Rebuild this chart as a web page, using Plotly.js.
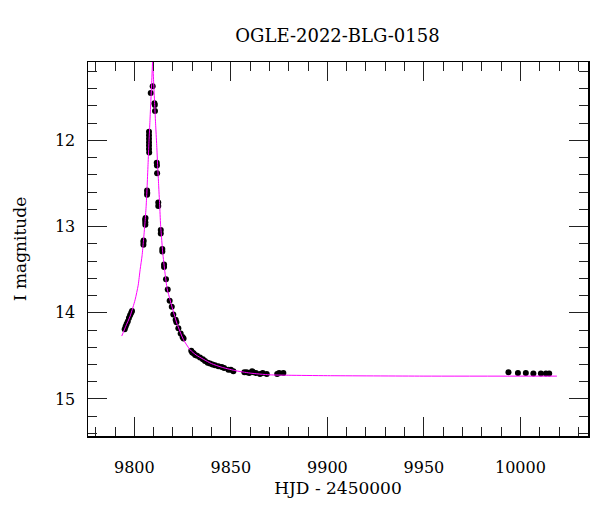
<!DOCTYPE html>
<html>
<head>
<meta charset="utf-8">
<script src="https://cdn.plot.ly/plotly-3.0.1.min.js"></script>
<style>html,body{margin:0;padding:0;background:#fff;}#chart{width:600px;height:512px;}</style>
</head>
<body>
<div id="chart"></div>
<script>
// Observed OGLE photometry (HJD - 2450000, I magnitude)
const obsHJD = [
  9795.0, 9795.5, 9796.0, 9796.6, 9797.2, 9797.8, 9798.4, 9798.8,
  9804.7, 9804.7, 9804.8,
  9805.6, 9805.7, 9805.7, 9805.8,
  9806.6, 9806.7, 9806.6,
  9807.6, 9807.6, 9807.6, 9807.6, 9807.6, 9807.6, 9807.7,
  9808.5, 9809.5, 9810.4, 9810.6, 9810.7,
  9811.6, 9811.7, 9811.8,
  9812.4, 9812.4,
  9813.7, 9813.7,
  9814.5, 9814.5,
  9815.4, 9815.4,
  9816.4, 9817.3, 9818.3, 9819.4, 9820.2, 9821.4, 9821.8, 9822.8, 9824.0, 9825.0, 9825.5,
  9829.5, 9830.0, 9830.7, 9831.5, 9832.5, 9834.0, 9835.5, 9836.6, 9838.0, 9839.2, 9840.5,
  9841.8, 9843.5, 9845.3, 9846.5, 9848.7, 9850.0, 9851.3,
  9857.0, 9858.2, 9859.5, 9861.0, 9861.7, 9863.0, 9865.1, 9866.5, 9868.6,
  9874.0, 9875.0, 9877.2,
  9993.8, 9998.7, 10002.8, 10006.7, 10010.6, 10013.2, 10014.9
];
const obsMag = [
  14.19, 14.16, 14.13, 14.10, 14.06, 14.03, 14.00, 13.98,
  13.18, 13.21, 13.16,
  12.92, 12.95, 12.98, 12.90,
  12.58, 12.61, 12.63,
  11.90, 11.94, 11.98, 12.02, 12.06, 12.10, 12.14,
  11.45, 11.37, 11.57, 11.59, 11.66,
  12.26, 12.29, 12.38,
  12.72, 12.76,
  13.04, 13.08,
  13.26, 13.29,
  13.44, 13.47,
  13.61, 13.73, 13.86, 13.93, 14.02, 14.08, 14.11, 14.18, 14.24, 14.28, 14.30,
  14.44, 14.46, 14.47, 14.49, 14.50, 14.52, 14.54, 14.56, 14.58, 14.59, 14.60,
  14.61, 14.62, 14.63, 14.64, 14.66, 14.66, 14.68,
  14.69, 14.69, 14.70, 14.68, 14.69, 14.70, 14.71, 14.70, 14.71,
  14.71, 14.70, 14.70,
  14.69, 14.70, 14.70, 14.705, 14.705, 14.705, 14.705
];

// Model light curve
const modelHJD = [
  9793.5, 9795.5, 9797.8, 9800.4, 9802.0, 9803.0, 9804.0, 9804.7, 9805.5, 9806.1,
  9806.6, 9807.1, 9807.6, 9808.1, 9808.5, 9809.0, 9809.5,
  9810.0, 9810.5, 9811.0, 9811.6, 9812.1, 9812.6, 9813.1, 9813.6, 9814.2, 9814.7,
  9815.9, 9817.0, 9818.5, 9820.0, 9822.0, 9825.4, 9828.9, 9832.0, 9835.8,
  9840.0, 9845.0, 9852.0, 9860.0, 9870.0, 9880.0, 9900.0, 9950.0, 10018.9
];
const modelMag = [
  14.27, 14.16, 14.04, 13.85, 13.68, 13.50, 13.34, 13.17, 12.96, 12.77,
  12.55, 12.28, 12.01, 11.77, 11.57, 11.33, 11.08,
  11.32, 11.56, 11.80, 12.06, 12.30, 12.52, 12.74, 12.98, 13.16, 13.30,
  13.54, 13.72, 13.85, 13.97, 14.12, 14.31, 14.43, 14.49, 14.54,
  14.59, 14.63, 14.67, 14.70, 14.72, 14.725, 14.73, 14.735, 14.735
];

const chartTitle = 'OGLE-2022-BLG-0158';
const xTitle = 'HJD - 2450000';
const yTitle = 'I magnitude';

const FONT = 'DejaVu Serif, Liberation Serif, serif';

const traces = [
  {
    x: obsHJD, y: obsMag, type: 'scatter', mode: 'markers',
    marker: {color: '#000', size: 6, symbol: 'circle'},
    hoverinfo: 'skip', showlegend: false
  },
  {
    x: modelHJD, y: modelMag, type: 'scatter', mode: 'lines',
    line: {color: '#ff00ff', width: 1, shape: 'spline', smoothing: 0.6},
    hoverinfo: 'skip', showlegend: false
  }
];

const axisCommon = {
  showgrid: false, zeroline: false,
  showline: true, linecolor: '#000', linewidth: 1.5,
  mirror: 'ticks', ticks: 'inside', ticklen: 19, tickwidth: 1, tickcolor: '#222',
  tickfont: {family: FONT, size: 16, color: '#000'}
};

const layout = {
  width: 600, height: 512,
  margin: {l: 88, r: 12, t: 62, b: 76},
  paper_bgcolor: '#fff', plot_bgcolor: '#fff',
  font: {family: FONT, color: '#000'},
  title: {text: chartTitle, font: {family: FONT, size: 18, color: '#000'},
          x: 0.5625, xanchor: 'center', y: 0.93, yanchor: 'middle'},
  xaxis: Object.assign({}, axisCommon, {
    range: [9776, 10035], tickmode: 'linear', tick0: 9800, dtick: 50,
    tickformat: 'd', separatethousands: false,
    ticklabelstandoff: 16,
    minor: {dtick: 10, tick0: 9800, ticks: 'inside', ticklen: 9, tickwidth: 1, tickcolor: '#222'},
    title: {text: xTitle, font: {family: FONT, size: 17, color: '#000'}, standoff: 6}
  }),
  yaxis: Object.assign({}, axisCommon, {
    range: [15.43, 11.09], tickmode: 'linear', tick0: 12, dtick: 1,
    ticklabelstandoff: 8,
    minor: {dtick: 0.2, tick0: 12, ticks: 'inside', ticklen: 9, tickwidth: 1, tickcolor: '#222'},
    title: {text: yTitle, font: {family: FONT, size: 17, color: '#000'}, standoff: 24}
  })
};

Plotly.newPlot('chart', traces, layout, {displayModeBar: false, staticPlot: true});
</script>
</body>
</html>
